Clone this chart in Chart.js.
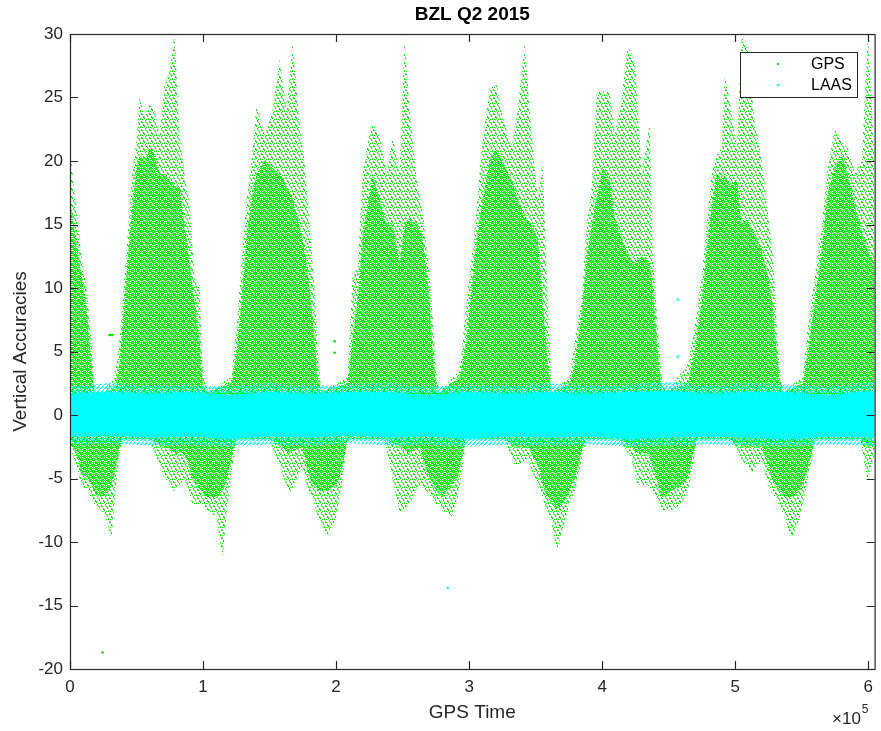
<!DOCTYPE html>
<html>
<head>
<meta charset="utf-8">
<title>BZL Q2 2015</title>
<script src="https://cdn.jsdelivr.net/npm/chart.js@4.4.1/dist/chart.umd.min.js"></script>
<style>
    html, body { margin: 0; padding: 0; background: #fff; }
    #chart { display: block; }
</style>
</head>
<body>
<canvas id="chart" width="881" height="731"></canvas>
<script>
// GPS cloud, upper edge: time of week (s), edge of the dense part, edge of the sparse dots
const gpsTopTime = [0, 3400, 8600, 12400, 16200, 18400, 25900,
    33500, 37200, 39500, 42500, 44700, 47000, 50000, 52300, 56000, 59800, 63500, 67300, 71100, 74800, 78600, 82300, 86100, 89900, 93600, 97400, 99600, 102600,
    121400, 125200, 129000, 132700, 136500, 140200, 146300, 152300, 157500, 162800, 167300, 172600, 176300, 180100, 183900, 186100, 189100,
    208700, 212400, 216200, 220000, 223700, 227500, 232700, 238000, 242500, 247800, 251500, 255300, 260600, 265100, 270300, 272600, 275600, 277900,
    292900, 298200, 304200, 309400, 315500, 320700, 325200, 332000, 336500, 341800, 347000, 351600, 355300, 359100, 362100,
    375600, 379400, 384600, 388400, 392200, 395900, 400400, 405700, 409500, 414700, 419200, 424500, 429800, 435800, 438000, 441800, 444800, 447800,
    464400, 469600, 474900, 478600, 482400, 486200, 489900, 492200, 495900, 501200, 505000, 509500, 514700, 520000, 524500, 528300, 531300, 533500, 535800,
    550800, 554600, 559900, 565100, 569600, 574900, 580200, 584700, 589900, 595200, 599700, 604800];
const gpsTopDense = [17, 14.5, 11, 8.5, 4, 1.8, 1.8,
    2, 4, 7, 11, 14, 16.5, 19.5, 20.5, 20, 21, 20.5, 19, 19, 18.5, 18, 18, 15, 12, 9, 6, 2.5, 1.8,
    2.5, 5, 9, 14, 17, 19, 20, 19.5, 19, 18, 17, 15, 13, 10, 6, 3, 1.8,
    2.5, 6, 9, 14, 16.5, 19, 17, 15, 15, 12, 15, 15.5, 15, 14, 9, 5, 2, 1.8,
    3, 6, 12.5, 16.5, 20, 21, 20, 18.5, 17, 15.5, 15, 14, 9, 4, 1.8,
    2.5, 4, 8, 12.5, 15, 17, 19.5, 18.5, 15.5, 14, 12.5, 12, 12.5, 12, 10, 5, 2, 1.8,
    2.5, 5, 9, 13, 16.5, 19, 18.5, 19, 18, 18.5, 15, 15.5, 14, 13, 11, 8.5, 5, 2.5, 1.8,
    2.5, 5, 9, 13, 17.5, 19.5, 20.5, 19, 16.5, 14.5, 13, 12];
const gpsTopSparse = [21, 17.5, 12.5, 10, 6, 1.8, 1.8,
    3, 6, 9, 13, 16, 19.5, 21.5, 25, 23.5, 24.5, 24, 22, 26, 27, 30, 22, 19, 16.5, 11, 10, 4, 1.8,
    3, 7, 12, 17, 20, 24.4, 22, 24, 28, 24, 29.3, 23, 20, 15, 10, 5, 1.8,
    3, 11, 11.5, 19, 21.5, 23, 22, 19, 22, 19, 29.6, 24, 18.5, 16, 11, 7.8, 3, 1.8,
    3.5, 9, 14.5, 21, 25.7, 26, 23.5, 21, 24, 29.3, 22, 17, 20, 9, 1.8,
    3, 6, 9, 15, 18, 25.4, 25.5, 25.5, 22, 25, 29, 28, 19, 23, 13, 7, 3, 1.8,
    4, 7, 11, 15, 19, 20.5, 21, 26.7, 24.8, 21, 30, 29, 23, 20, 16, 12.5, 7, 3.5, 1.8,
    3, 7, 11, 15, 19.5, 22.5, 21.5, 21, 19, 20, 30, 20];

// GPS cloud, lower edge
const gpsBotTime = [0, 4900, 8600, 13200, 18400, 23700, 28200, 31200, 35000, 37200, 39500, 59800,
    71100, 78600, 86100, 92100, 98900, 103400, 110200, 114700, 118400, 122200, 125200,
    150000, 165100, 174800, 178600, 182400, 187600, 193600, 200400, 204900, 208700,
    236500, 247800, 255300, 262800, 268100, 275600, 280100, 286900, 291400, 295200, 298200,
    326700, 334300, 344000, 351600, 356800, 362100, 365800, 370400, 375600, 380900, 385400, 388400,
    413200, 422200, 426800, 434300, 441000, 444800, 452300, 459800, 464400, 467400, 471100,
    495900, 505000, 512500, 520000, 524500, 529800, 537300, 542600, 548600, 553800, 557600, 559900,
    593700, 599700, 604800];
const gpsBotDense = [-2, -3, -4.5, -5, -6, -6.5, -6.2, -5.5, -4, -2.5, -1.9, -1.9,
    -2.5, -3, -3, -5, -6, -6.5, -6.5, -6, -5, -3, -1.9,
    -1.9, -3, -2.5, -4.5, -5.5, -6, -6, -5.5, -4, -1.9,
    -1.9, -2.5, -3, -2.5, -4.5, -6, -6.5, -5.5, -5, -3, -1.9,
    -1.9, -2.5, -2.5, -4, -6, -7, -7.5, -7, -6, -4.5, -2.5, -1.9,
    -1.9, -2.5, -3, -3, -5, -6.5, -6, -5.5, -5, -3.5, -1.9,
    -1.9, -2.5, -2.5, -2.5, -4, -5.5, -6.5, -6.5, -6, -4.5, -3, -1.9,
    -1.9, -2.5, -2.3];
const gpsBotSparse = [-2.5, -4, -5.5, -6, -7, -7.5, -8.5, -9.8, -5, -3, -1.9, -1.9,
    -5, -6, -5, -7, -7, -7.5, -8, -11.3, -7, -4, -1.9,
    -1.9, -6.2, -4, -6, -6.5, -8.5, -9.5, -8, -5, -1.9,
    -1.9, -7.8, -7, -5.5, -6, -7, -7.5, -8, -6.5, -4, -1.9,
    -1.9, -4, -3.5, -5.5, -7, -8.5, -10.7, -9, -7, -5.5, -3, -1.9,
    -1.9, -3.5, -5.5, -5.5, -6.5, -7.5, -7.5, -7, -6, -4.5, -1.9,
    -1.9, -3.5, -4.5, -3.5, -5.5, -6.5, -8, -9.8, -8, -5.5, -3.5, -1.9,
    -1.9, -5.2, -3];

// stray GPS points
const gpsOddTime = [29700, 30500, 32000, 24400, 198900, 198900];
const gpsOddVal = [6.3, 6.3, 6.3, -18.7, 5.8, 4.9];

// LAAS band: solid core edges and ragged outer edges
const laasTime = [0, 30000, 60000, 90000, 120000, 150000, 180000, 210000, 240000, 270000, 300000,
    330000, 360000, 390000, 420000, 450000, 480000, 510000, 540000, 570000, 604800];
const laasTop = [1.7, 1.8, 1.7, 1.8, 1.6, 1.8, 1.7, 1.8, 1.8, 1.6, 1.8, 1.7, 1.8, 1.7, 1.8, 1.9, 1.7, 1.8, 1.8, 1.6, 1.9];
const laasBot = [-1.7, -1.6, -1.8, -1.7, -1.9, -1.7, -1.8, -1.6, -1.8, -1.7, -1.9, -1.7, -1.8, -1.7, -1.9, -1.8, -1.7, -1.8, -1.9, -1.7, -1.8];
const laasTopOuter = [2.3, 2.5, 2.3, 2.4, 2.2, 2.5, 2.3, 2.4, 2.5, 2.2, 2.4, 2.3, 2.5, 2.3, 2.4, 2.6, 2.3, 2.5, 2.4, 2.2, 2.6];
const laasBotOuter = [-2.3, -2.2, -2.4, -2.3, -2.5, -2.3, -2.4, -2.2, -2.4, -2.3, -2.5, -2.3, -2.4, -2.3, -2.5, -2.4, -2.3, -2.4, -2.5, -2.3, -2.4];

// stray LAAS points
const laasOddTime = [283900, 456800, 456800];
const laasOddVal = [-13.6, 9.1, 4.6];

const seriesNames = ["GPS", "LAAS"];
const xTicks = [0, 100000, 200000, 300000, 400000, 500000, 600000];
const yTicks = [-20, -15, -10, -5, 0, 5, 10, 15, 20, 25, 30];

const GREEN = "#00e600";
const CYAN = "#00ffff";
const AXIS = "#262626";
const FONT = "'Liberation Sans', Arial, Helvetica, sans-serif";

function pts(t, v) {
    return t.map((x, i) => ({ x: x, y: v[i] }));
}

// speckle textures so the filled areas read like a cloud of dots
function speckle(ctx, color, size, dots, background) {
    const c = document.createElement("canvas");
    c.width = size; c.height = size;
    const g = c.getContext("2d");
    if (background) {
        g.fillStyle = background;
        g.fillRect(0, 0, size, size);
    }
    g.fillStyle = color;
    dots.forEach(([x, y, w, h]) => g.fillRect(x, y, w, h));
    return ctx.createPattern(c, "repeat");
}

const band = (data, extra) => Object.assign({
    data: data,
    borderWidth: 0,
    borderColor: "rgba(0,0,0,0)",
    pointRadius: 0,
    tension: 0,
    fill: false,
}, extra);

// MATLAB-like box, inward ticks, legend and the x10^5 multiplier
const matlabFrame = {
    id: "matlabFrame",
    afterDraw(chart) {
        const { ctx, chartArea: a, scales: { x, y } } = chart;
        ctx.save();
        ctx.strokeStyle = AXIS;
        ctx.lineWidth = 1.2;
        ctx.beginPath();
        x.ticks.forEach((t) => {
            const px = Math.round(x.getPixelForValue(t.value)) + 0.5;
            ctx.moveTo(px, a.bottom); ctx.lineTo(px, a.bottom - 8);
            ctx.moveTo(px, a.top); ctx.lineTo(px, a.top + 8);
        });
        y.ticks.forEach((t) => {
            const py = Math.round(y.getPixelForValue(t.value)) + 0.5;
            ctx.moveTo(a.left, py); ctx.lineTo(a.left + 8, py);
            ctx.moveTo(a.right, py); ctx.lineTo(a.right - 8, py);
        });
        ctx.stroke();
        ctx.strokeRect(a.left + 0.5, a.top + 0.5, a.right - a.left, a.bottom - a.top);

        // legend
        ctx.fillStyle = "#ffffff";
        ctx.fillRect(740, 52, 118, 46);
        ctx.lineWidth = 1;
        ctx.strokeStyle = AXIS;
        ctx.strokeRect(740.5, 52.5, 117, 45);
        const rows = [{ y: 64, c: GREEN }, { y: 85, c: CYAN }];
        ctx.font = "16px " + FONT;
        ctx.textBaseline = "middle";
        ctx.textAlign = "left";
        rows.forEach((r, i) => {
            ctx.fillStyle = r.c;
            ctx.fillRect(777, r.y - 1, 2, 2);
            ctx.fillStyle = "#000000";
            ctx.fillText(seriesNames[i], 811, r.y + 1);
        });

        // exponent label under the x axis
        ctx.fillStyle = AXIS;
        ctx.textBaseline = "alphabetic";
        ctx.font = "17px " + FONT;
        const base = "\u00d710";
        ctx.fillText(base, 832, 724);
        const w = ctx.measureText(base).width;
        ctx.font = "12px " + FONT;
        ctx.fillText("5", 832 + w + 1, 713);
        ctx.restore();
    },
};

const canvas = document.getElementById("chart");
const ctx2d = canvas.getContext("2d");

const densePat = speckle(ctx2d, "#ffffff", 6,
    [[1, 0, 1, 1], [4, 1, 1, 1], [0, 2, 1, 1], [3, 3, 1, 1], [5, 4, 1, 1], [2, 5, 1, 1],
     [1, 4, 1, 1], [4, 5, 1, 1], [2, 1, 1, 1], [5, 2, 1, 1], [0, 4, 1, 1], [3, 0, 1, 1]], GREEN);
const sparsePat = speckle(ctx2d, GREEN, 8,
    [[1, 0, 1, 2], [5, 1, 1, 2], [3, 3, 1, 2], [7, 4, 1, 2], [0, 5, 1, 2], [4, 6, 1, 2],
     [6, 2, 1, 1], [2, 7, 1, 1], [2, 2, 1, 1], [6, 7, 1, 1]]);
const cyanPat = speckle(ctx2d, CYAN, 4, [[0, 0, 2, 1], [2, 2, 1, 2], [1, 3, 1, 1], [3, 1, 1, 1]]);

Chart.defaults.font.family = FONT;
Chart.defaults.color = AXIS;

new Chart(ctx2d, {
    type: "line",
    data: {
        datasets: [
            band(pts(laasTime, laasTop), { label: "LAAS", fill: 1, backgroundColor: CYAN, order: 1 }),
            band(pts(laasTime, laasBot), { label: "LAAS low", order: 1 }),
            band(pts(laasTime, laasTopOuter), { label: "LAAS outer", fill: 3, backgroundColor: cyanPat, order: 1.5 }),
            band(pts(laasTime, laasBotOuter), { label: "LAAS outer low", order: 1.5 }),
            band(pts(gpsTopTime, gpsTopDense), { label: "GPS", fill: 5, backgroundColor: densePat, order: 2 }),
            band(pts(gpsBotTime, gpsBotDense), { label: "GPS low", order: 2 }),
            band(pts(gpsTopTime, gpsTopSparse), { label: "GPS sparse", fill: 7, backgroundColor: sparsePat, order: 3 }),
            band(pts(gpsBotTime, gpsBotSparse), { label: "GPS sparse low", order: 3 }),
            {
                label: "GPS stray",
                data: pts(gpsOddTime, gpsOddVal),
                showLine: false,
                pointRadius: 1.3,
                pointBorderWidth: 0,
                pointBackgroundColor: GREEN,
                order: 2,
            },
            {
                label: "LAAS stray",
                data: pts(laasOddTime, laasOddVal),
                showLine: false,
                pointRadius: 1.3,
                pointBorderWidth: 0,
                pointBackgroundColor: CYAN,
                order: 0,
            },
        ],
    },
    options: {
        responsive: false,
        animation: false,
        events: [],
        layout: { padding: { left: 0, right: 6, top: 0, bottom: 0 } },
        plugins: {
            legend: { display: false },
            tooltip: { enabled: false },
            title: {
                display: true,
                text: "BZL Q2 2015",
                color: "#000000",
                fullSize: false,
                font: { size: 19, weight: "bold" },
                padding: { top: 3, bottom: 8.2 },
            },
        },
        scales: {
            x: {
                type: "linear",
                min: 0,
                max: 604800,
                afterFit: (s) => { s.height = 62; },
                afterBuildTicks: (s) => { s.ticks = xTicks.map((v) => ({ value: v })); },
                grid: { display: false, drawTicks: false },
                border: { display: false },
                ticks: {
                    color: AXIS,
                    font: { size: 17 },
                    padding: 8,
                    maxRotation: 0,
                    callback: (v) => String(v / 100000),
                },
                title: {
                    display: true,
                    text: "GPS Time",
                    color: AXIS,
                    font: { size: 19 },
                    padding: { top: 0, bottom: 6.5 },
                },
            },
            y: {
                type: "linear",
                min: -20,
                max: 30,
                afterFit: (s) => { s.width = 70; },
                afterBuildTicks: (s) => { s.ticks = yTicks.map((v) => ({ value: v })); },
                grid: { display: false, drawTicks: false },
                border: { display: false },
                ticks: {
                    color: AXIS,
                    font: { size: 17 },
                    padding: 7,
                },
                title: {
                    display: true,
                    text: "Vertical Accuracies",
                    color: AXIS,
                    font: { size: 19 },
                    padding: { top: 9, bottom: 0 },
                },
            },
        },
    },
    plugins: [matlabFrame],
});
</script>
</body>
</html>
